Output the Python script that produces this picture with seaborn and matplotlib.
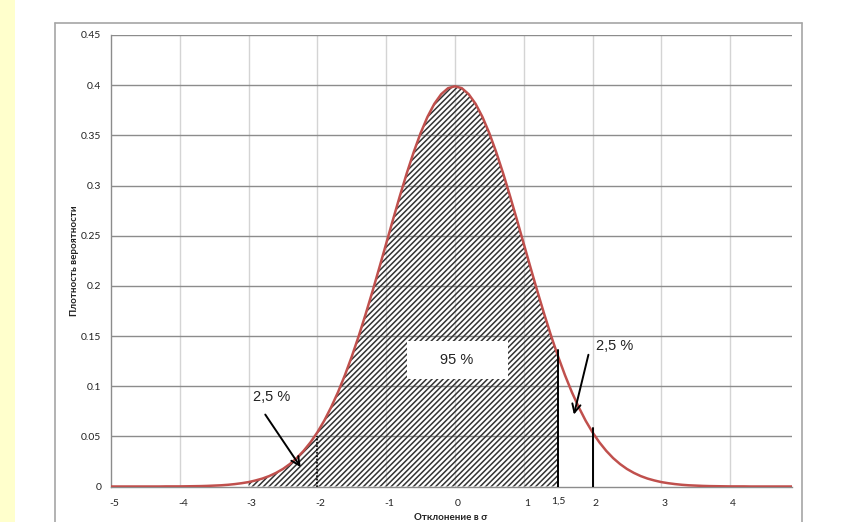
import numpy as np
import pandas as pd
import matplotlib
matplotlib.use("Agg")
import matplotlib.pyplot as plt
import matplotlib.transforms as mtrans
from matplotlib.patches import Rectangle
from matplotlib.lines import Line2D
import seaborn as sns

# ---- data ----
x_values = [-5.0, -4.9, -4.8, -4.7, -4.6, -4.5, -4.4, -4.3, -4.2, -4.1,
            -4.0, -3.9, -3.8, -3.7, -3.6, -3.5, -3.4, -3.3, -3.2, -3.1,
            -3.0, -2.9, -2.8, -2.7, -2.6, -2.5, -2.4, -2.3, -2.2, -2.1,
            -2.0, -1.9, -1.8, -1.7, -1.6, -1.5, -1.4, -1.3, -1.2, -1.1,
            -1.0, -0.9, -0.8, -0.7, -0.6, -0.5, -0.4, -0.3, -0.2, -0.1,
            0.0, 0.1, 0.2, 0.3, 0.4, 0.5, 0.6, 0.7, 0.8, 0.9,
            1.0, 1.1, 1.2, 1.3, 1.4, 1.5, 1.6, 1.7, 1.8, 1.9,
            2.0, 2.1, 2.2, 2.3, 2.4, 2.5, 2.6, 2.7, 2.8, 2.9,
            3.0, 3.1, 3.2, 3.3, 3.4, 3.5, 3.6, 3.7, 3.8, 3.9,
            4.0, 4.1, 4.2, 4.3, 4.4, 4.5, 4.6, 4.7, 4.8, 4.9]
density = [0.0000, 0.0000, 0.0000, 0.0000, 0.0000, 0.0000, 0.0000, 0.0000, 0.0001, 0.0001,
           0.0001, 0.0002, 0.0003, 0.0004, 0.0006, 0.0009, 0.0012, 0.0017, 0.0024, 0.0033,
           0.0044, 0.0060, 0.0079, 0.0104, 0.0136, 0.0175, 0.0224, 0.0283, 0.0355, 0.0440,
           0.0540, 0.0656, 0.0790, 0.0940, 0.1109, 0.1295, 0.1497, 0.1714, 0.1942, 0.2179,
           0.2420, 0.2661, 0.2897, 0.3123, 0.3332, 0.3521, 0.3683, 0.3814, 0.3910, 0.3970,
           0.3989, 0.3970, 0.3910, 0.3814, 0.3683, 0.3521, 0.3332, 0.3123, 0.2897, 0.2661,
           0.2420, 0.2179, 0.1942, 0.1714, 0.1497, 0.1295, 0.1109, 0.0940, 0.0790, 0.0656,
           0.0540, 0.0440, 0.0355, 0.0283, 0.0224, 0.0175, 0.0136, 0.0104, 0.0079, 0.0060,
           0.0044, 0.0033, 0.0024, 0.0017, 0.0012, 0.0009, 0.0006, 0.0004, 0.0003, 0.0002,
           0.0001, 0.0001, 0.0001, 0.0000, 0.0000, 0.0000, 0.0000, 0.0000, 0.0000, 0.0000]

hatch_from, hatch_to = -3.0, 1.5
solid_marks_x = [1.5, 2.0]
solid_marks_top = [0.136, 0.058]
dotted_mark_x = -2.0
dotted_mark_top = 0.050

x_ticks = [-5, -4, -3, -2, -1, 0, 1, 2, 3, 4]
x_tick_labels = ["-5", "-4", "-3", "-2", "-1", "0", "1", "2", "3", "4"]
extra_tick = 1.5
extra_tick_label = "1,5"
y_ticks = [0, 0.05, 0.1, 0.15, 0.2, 0.25, 0.3, 0.35, 0.4, 0.45]
y_tick_labels = ["0", "0.05", "0.1", "0.15", "0.2", "0.25", "0.3", "0.35", "0.4", "0.45"]

center_label = "95 %"
tail_label = "2,5 %"
x_title = "Отклонение в σ"
y_title = "Плотность вероятности"

df = pd.DataFrame({"x": x_values, "y": density})

# ---- figure ----
sns.set_style("white")
plt.rcParams["font.family"] = ["Lato", "DejaVu Sans"]
plt.rcParams["hatch.linewidth"] = 1.1

W, H = 854, 522
fig = plt.figure(figsize=(W / 100, H / 100), dpi=100)
fig.patch.set_facecolor("white")

# yellow strip on the left and outer chart border
fig.patches.append(Rectangle((0, 0), 15 / W, 1, transform=fig.transFigure,
                             facecolor="#FFFFCC", edgecolor="none", zorder=0))
bx0, bx1, by1 = 55 / W, 802 / W, 1 - 23 / H
for xs, ys in [([bx0, bx0], [0, by1]), ([bx0, bx1], [by1, by1]), ([bx1, bx1], [by1, 0])]:
    fig.lines.append(Line2D(xs, ys, transform=fig.transFigure, color="#A6A6A6", lw=1.2))

ax = fig.add_axes([111 / W, 35.5 / H, (792 - 111) / W, (487 - 35.5) / H])
ax.set_facecolor("none")

ax.set_xlim(-5, 4.9)
ax.set_ylim(0, 0.45)

# grid
for xv in x_ticks[1:]:
    ax.axvline(xv, color="#D4D4D4", lw=1.0, zorder=0)
for yv in y_ticks[1:]:
    ax.axhline(yv, color="#8C8C8C", lw=1.0, zorder=0)

# hatched area
sub = df[(df["x"] >= hatch_from - 1e-9) & (df["x"] <= hatch_to + 1e-9)]
ax.fill_between(sub["x"], 0, sub["y"], facecolor="none", edgecolor="#333333",
                hatch="//////", linewidth=0, zorder=1)

# white box for 95 %
ax.add_patch(Rectangle((-0.70, 0.107), 1.47, 0.038, facecolor="white",
                       edgecolor="none", zorder=2))
ax.text(0.03, 0.1265, center_label, ha="center", va="center", fontsize=10.5,
        family=["Liberation Sans", "DejaVu Sans"], color="#222222", zorder=3)

# curve
sns.lineplot(data=df, x="x", y="y", ax=ax, color="#C0504D", lw=1.8, zorder=4,
             sort=False)

# vertical marks
for xm, top in zip(solid_marks_x, solid_marks_top):
    ax.plot([xm, xm], [0, top], color="black", lw=1.4, zorder=5)
ax.plot([dotted_mark_x, dotted_mark_x], [0, dotted_mark_top], color="black",
        lw=1.2, ls=(0, (1, 1)), zorder=5)

# tail annotations
ann_font = dict(fontsize=10.5, family=["Liberation Sans", "DejaVu Sans"], color="#222222")
ax.text(2.05, 0.140, tail_label, ha="left", va="center", **ann_font, zorder=6)
ax.annotate("", xy=(1.72, 0.069), xytext=(1.95, 0.134),
            arrowprops=dict(arrowstyle="->", color="black", lw=1.4,
                            mutation_scale=15), zorder=6)
ax.text(-2.94, 0.089, tail_label, ha="left", va="center", **ann_font, zorder=6)
ax.annotate("", xy=(-2.22, 0.017), xytext=(-2.78, 0.074),
            arrowprops=dict(arrowstyle="->", color="black", lw=1.4,
                            mutation_scale=15), zorder=6)

# spines / ticks
for s in ["top", "right"]:
    ax.spines[s].set_visible(False)
for s in ["left", "bottom"]:
    ax.spines[s].set_color("#8C8C8C")
    ax.spines[s].set_linewidth(1.0)
    ax.spines[s].set_zorder(3)

ax.set_xticks(x_ticks, x_tick_labels)
ax.set_xticks([extra_tick], [extra_tick_label], minor=True)
ax.set_yticks(y_ticks, y_tick_labels)
ax.tick_params(axis="x", which="major", direction="out", length=3, width=1,
               color="#8C8C8C", labelsize=7.5, pad=6, labelcolor="#222222")
ax.tick_params(axis="x", which="minor", length=0, labelsize=7.5, pad=7.5,
               labelcolor="#222222")
ax.tick_params(axis="y", direction="out", length=5, width=1, color="#8C8C8C",
               labelsize=7.5, pad=2, labelcolor="#222222")
offset = mtrans.ScaledTranslation(3 / 100, 0, fig.dpi_scale_trans)
for lab in ax.get_xticklabels():
    lab.set_transform(lab.get_transform() + offset)

ax.set_xlabel("")
ax.set_ylabel("")
fig.text(451 / W, 1 - 517 / H, x_title, ha="center", va="center", fontsize=7,
         fontweight="bold", color="#222222")
fig.text(75 / W, 1 - 261 / H, y_title, ha="center", va="center", rotation=90,
         fontsize=7, fontweight="bold", color="#222222")

fig.savefig("out.png", dpi=100, facecolor="white")
